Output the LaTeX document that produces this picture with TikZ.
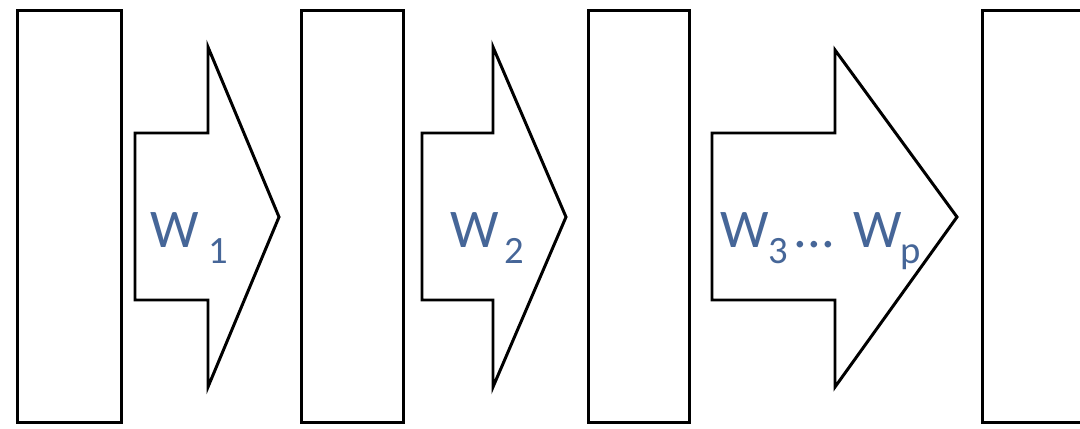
\documentclass[tikz,border=0pt]{standalone}
\usepackage{fontspec}
\setmainfont{Carlito}
\usepackage{tikz}
\usetikzlibrary{positioning,calc}
\definecolor{weightblue}{RGB}{70,102,152}
\tikzset{
  layer/.style={draw,line width=1.7pt,fill=white,minimum height=8.26cm,inner sep=0pt},
  blockarrow/.style={draw,line width=1.7pt,fill=white,line join=miter},
  weight/.style={text=weightblue,font=\fontsize{31}{31}\selectfont,inner sep=0pt,anchor=base west}
}
\newcommand{\wsub}[1]{\raisebox{-0.28em}{\fontsize{22}{22}\selectfont #1}}

\begin{document}
\begin{tikzpicture}[x=0.02cm,y=-0.02cm]
  \useasboundingbox (0,0) rectangle (1080,429);
  % layers
  \node[layer,minimum width=2.1cm] (layerA) at (69.5,216.5) {};
  \node[layer,minimum width=2.06cm] (layerB) at (352.5,216.5) {};
  \node[layer,minimum width=2.04cm] (layerC) at (639,216.5) {};
  \node[layer,minimum width=2.2cm,anchor=west] (layerD) at (981,216.5) {};
  % weight arrows
  \draw[blockarrow] (135,133) -- (208,133) -- (208,47) -- (279,217)
    -- (208,387) -- (208,300) -- (135,300) -- cycle;
  \draw[blockarrow] (422,133) -- (493,133) -- (493,47) -- (566,217)
    -- (493,387) -- (493,300) -- (422,300) -- cycle;
  \draw[blockarrow] (712,133) -- (835,133) -- (835,50) -- (957,217)
    -- (835,387) -- (835,300) -- (712,300) -- cycle;
  \node[weight] (wA) at (150,248) {W\kern0.18em\wsub{1}};
  \node[weight] (wB) at (450,248) {W\kern0.1em\wsub{2}};
  \node[weight] (wC) at (720,248)
    {W\wsub{3}\kern0.1cm\hbox to 0.84cm{.\hfil.\hfil.}\kern0.36cm W\kern-0.02em\wsub{p}};
\end{tikzpicture}
\end{document}
